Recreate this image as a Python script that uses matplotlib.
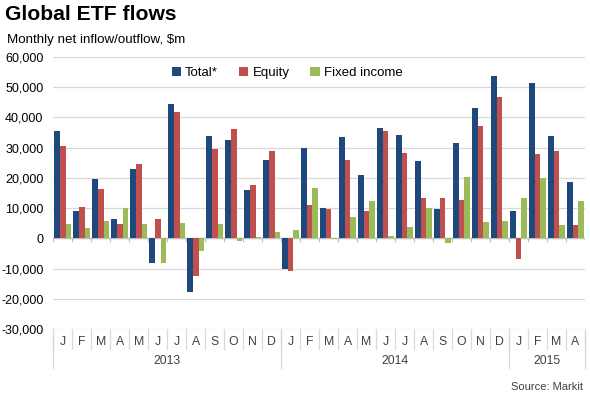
import matplotlib.pyplot as plt
import numpy as np

plt.rcParams["font.family"] = ["Liberation Sans", "DejaVu Sans"]

months = ["J", "F", "M", "A", "M", "J", "J", "A", "S", "O", "N", "D",
          "J", "F", "M", "A", "M", "J", "J", "A", "S", "O", "N", "D",
          "J", "F", "M", "A"]
years = ["2013", "2014", "2015"]
year_lengths = [12, 12, 4]

total = [35600, 9000, 19700, 6300, 23100, -8100, 44500, -17900, 33800, 32400, 16000, 26000,
         -10300, 30000, 9900, 33600, 21100, 36400, 34300, 25600, 9600, 31500, 43000, 53600,
         9200, 51300, 33800, 18700]
equity = [30700, 10300, 16300, 4900, 24700, 6300, 41900, -12600, 29700, 36300, 17500, 28800,
          -10900, 10900, 9600, 26000, 9000, 35400, 28400, 13300, 13500, 12600, 37300, 46800,
          -7000, 27900, 29000, 4500]
fixed_income = [4700, 3400, 5800, 10000, 4600, -8200, 5200, -4200, 4700, -900, 300, 2200,
                2600, 16600, -300, 7000, 12200, 900, 3600, 10200, -1400, 20200, 5500, 5900,
                13200, 19900, 4500, 12300]

series = [("Total*", total, "#1F497D"),
          ("Equity", equity, "#C0504D"),
          ("Fixed income", fixed_income, "#9BBB59")]

fig = plt.figure(figsize=(5.9, 3.97), dpi=100)
ax = fig.add_axes([0.0903, 0.1713, 0.9012, 0.6851])

x = np.arange(len(months))
w = 0.3
for k, (name, vals, color) in enumerate(series):
    ax.bar(x + (k - 1) * w, vals, width=w, color=color, label=name, zorder=3)

ax.set_xlim(-0.5, len(months) - 0.5)
ax.set_ylim(-30000, 60000)
yticks = np.arange(-30000, 60001, 10000)
ax.set_yticks(yticks)
ax.set_yticklabels([f"{v:,}" for v in yticks], fontsize=9)
ax.tick_params(axis="y", length=0, pad=7)
for v in yticks:
    ax.axhline(v, color="#D9D9D9", lw=0.9, zorder=1)
ax.axhline(0, color="#BFBFBF", lw=1.0, zorder=2)
ax.set_xticks([])
for s in ax.spines.values():
    s.set_visible(False)

# small ticks on the zero line
bounds = np.arange(-0.5, len(months), 1.0)
for b in bounds:
    ax.plot([b, b], [0, -900], color="#BFBFBF", lw=0.9, zorder=2)

# category table under the plot
tr = ax.get_xaxis_transform()
for b in bounds:
    ax.plot([b, b], [0, -0.074], transform=tr, color="#D9D9D9", lw=0.9, clip_on=False)
for i, m in enumerate(months):
    ax.text(i, -0.048, m, transform=tr, ha="center", va="center", fontsize=8.8, color="#404040")
start = -0.5
for yr, n in zip(years, year_lengths):
    ax.plot([start, start], [0, -0.145], transform=tr, color="#D9D9D9", lw=0.9, clip_on=False)
    ax.text(start + n / 2, -0.117, yr, transform=tr, ha="center", va="center", fontsize=8.8, color="#404040")
    start += n
ax.plot([start, start], [0, -0.145], transform=tr, color="#D9D9D9", lw=0.9, clip_on=False)

ax.legend(loc="center", bbox_to_anchor=(0.44, 0.941), ncol=3, frameon=False, fontsize=9.5,
          handlelength=0.7, handleheight=0.7, handletextpad=0.3, columnspacing=1.6)

fig.text(0.008, 0.9496, "Global ETF flows", fontsize=15.2, fontweight="bold", va="baseline")
fig.text(0.012, 0.891, "Monthly net inflow/outflow, $m", fontsize=9.6, va="baseline")
fig.text(0.988, 0.025, "Source: Markit", fontsize=8, ha="right", va="center", color="#404040")

fig.savefig("out.png", dpi=100)
